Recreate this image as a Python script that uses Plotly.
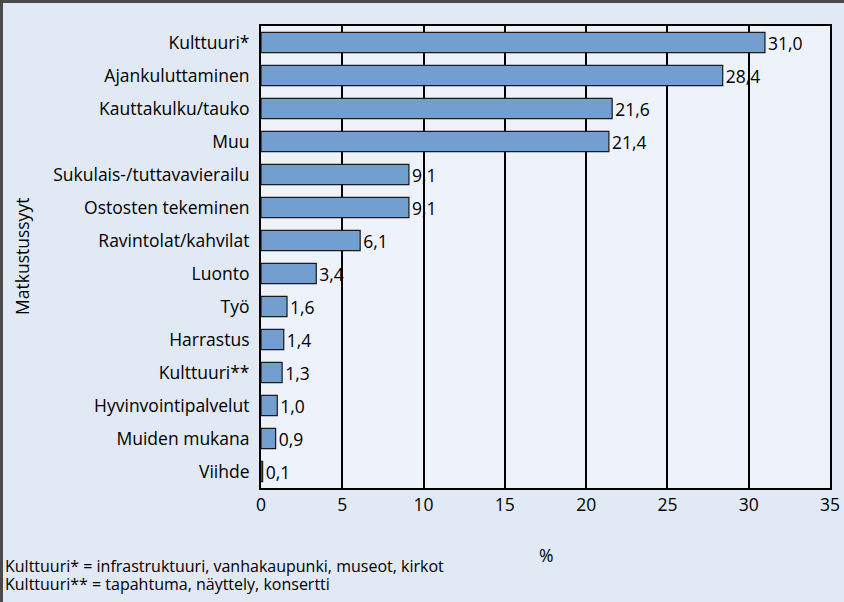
import plotly.graph_objects as go

categories = ["Kulttuuri*", "Ajankuluttaminen", "Kauttakulku/tauko", "Muu",
              "Sukulais-/tuttavavierailu", "Ostosten tekeminen", "Ravintolat/kahvilat",
              "Luonto", "Työ", "Harrastus", "Kulttuuri**", "Hyvinvointipalvelut",
              "Muiden mukana", "Viihde"]
values = [31.0, 28.4, 21.6, 21.4, 9.1, 9.1, 6.1, 3.4, 1.6, 1.4, 1.3, 1.0, 0.9, 0.1]
x_ticks = [0, 5, 10, 15, 20, 25, 30, 35]
footnotes = ["Kulttuuri* = infrastruktuuri, vanhakaupunki, museot, kirkot",
             "Kulttuuri** = tapahtuma, näyttely, konsertti"]
x_title = "%"
y_title = "Matkustussyyt"

FONT = "Open Sans"
FS = 17.5
W, H = 844, 602
L, R, T, B = 261, 14, 26, 114
PW, PH = W - L - R, H - T - B


def px(x):
    return (x - L) / PW


def py(y):
    return (H - B - y) / PH


fig = go.Figure(go.Bar(
    y=categories,
    x=values,
    orientation="h",
    marker=dict(color="#729fd0", line=dict(color="#1a1a1a", width=1.2)),
    texttemplate="%{x:.1f}",
    textposition="outside",
    constraintext="none",
    textfont=dict(color="#000000", size=FS, family=FONT),
    cliponaxis=False,
))

annotations = [
    dict(text=footnotes[0], xref="paper", yref="paper", x=px(3), y=py(566),
         xanchor="left", yanchor="middle", showarrow=False,
         font=dict(size=16, family=FONT, color="#000000")),
    dict(text=footnotes[1], xref="paper", yref="paper", x=px(3), y=py(584),
         xanchor="left", yanchor="middle", showarrow=False,
         font=dict(size=16, family=FONT, color="#000000")),
    dict(text=x_title, xref="paper", yref="paper", x=0.5, y=py(555),
         xanchor="center", yanchor="middle", showarrow=False,
         font=dict(size=FS, family=FONT, color="#000000")),
    dict(text=y_title, xref="paper", yref="paper", x=px(22), y=0.5, textangle=-90,
         xanchor="center", yanchor="middle", showarrow=False,
         font=dict(size=FS, family=FONT, color="#000000")),
]

fig.update_layout(
    width=W, height=H,
    margin=dict(l=L, r=R, t=T, b=B, autoexpand=False),
    paper_bgcolor="#e1e9f5",
    plot_bgcolor="#eef3fb",
    separators=", ",
    bargap=0.39,
    showlegend=False,
    font=dict(family=FONT, size=FS, color="#000000"),
    xaxis=dict(
        range=[0, 35], tickvals=x_ticks, showgrid=True, gridcolor="#000000", gridwidth=1.5,
        zeroline=False, showline=True, linecolor="#000000", linewidth=2, mirror=True,
        ticks="", tickfont=dict(size=FS, family=FONT), automargin=False,
    ),
    yaxis=dict(
        autorange="reversed", showline=True, linecolor="#000000", linewidth=2, mirror=True,
        ticks="", ticklabelstandoff=6, tickfont=dict(size=FS, family=FONT),
        showgrid=False, automargin=False,
    ),
    annotations=annotations,
    shapes=[
        dict(type="line", xref="paper", yref="paper", x0=px(1.5), x1=px(1.5),
             y0=py(0), y1=py(H), line=dict(color="#4a4a4a", width=3)),
        dict(type="line", xref="paper", yref="paper", x0=px(0), x1=px(W),
             y0=py(1.5), y1=py(1.5), line=dict(color="#4a4a4a", width=3)),
    ],
)

fig.write_html("out.html", config={"displayModeBar": False},
               post_script="document.body.style.margin='0';document.body.style.overflow='hidden';")
